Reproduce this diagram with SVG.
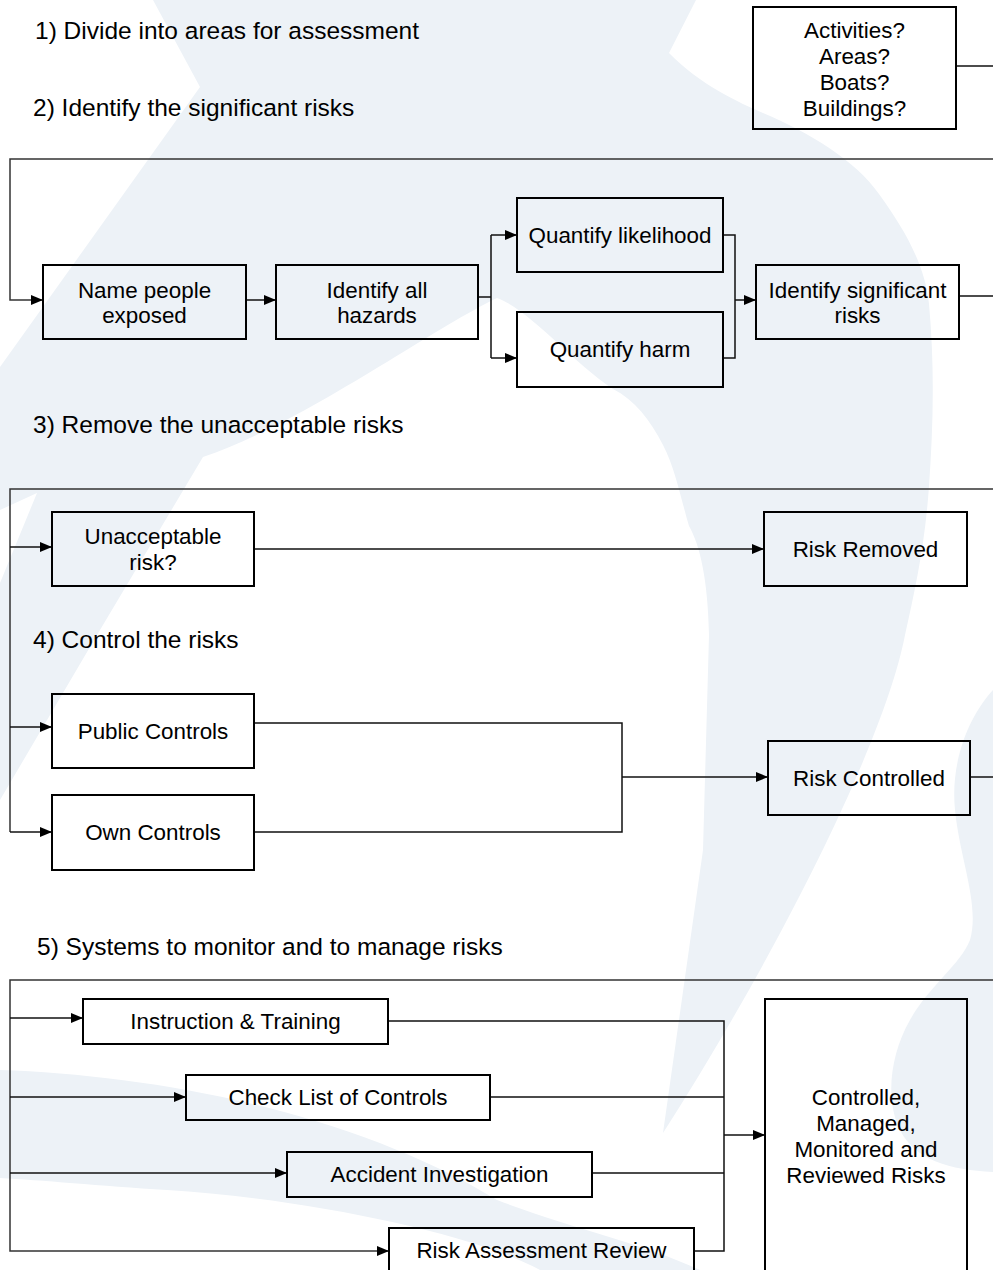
<svg xmlns="http://www.w3.org/2000/svg" width="993" height="1270" viewBox="0 0 993 1270">
<style>
.bg{fill:#edf2f7;stroke:none}
.box{fill:none;stroke:#000;stroke-width:2}
.t{font-family:"Liberation Sans",Arial,sans-serif;font-size:22.4px;fill:#000;text-anchor:middle}
.h{font-family:"Liberation Sans",Arial,sans-serif;font-size:24.5px;fill:#000}
.c{fill:none;stroke:#111;stroke-width:1.5}
.f{fill:none;stroke:#333;stroke-width:1.5}
</style>
<defs>
<marker id="ah" markerUnits="userSpaceOnUse" markerWidth="12" markerHeight="10" viewBox="0 0 12 10" refX="12" refY="5" orient="auto">
<path d="M0,0 L12,5 L0,10 Z" fill="#000"/>
</marker>
</defs>
<rect width="993" height="1270" fill="#fff"/>
<g id="watermark">
<path class="bg" d="M153,0 L696,0 L669,53 C700,85 740,103 763,113 C810,133 855,160 879,194 C905,230 925,265 929,304 C935,370 933,430 929,486 C925,545 915,590 905,635 C885,740 780,950 663,1133 L703,850 L709,635 C708,580 700,545 689,526 C680,495 675,468 663,445 C650,420 635,400 613,389 C570,360 530,310 497,298 C430,330 300,425 203,457 L100,630 L0,800 L0,583 L37,493 L0,510 L0,367 L200,87 Z"/>
<path class="bg" d="M0,1070 C150,1075 350,1110 497,1200 C570,1228 640,1242 700,1270 L540,1270 C470,1232 300,1198 167,1190 C100,1186 40,1180 0,1178 Z"/>
<path class="bg" d="M993,690 C970,715 950,760 955,810 C960,860 980,905 970,940 C960,965 930,985 910,1020 C890,1055 885,1100 900,1130 C915,1160 950,1170 993,1172 Z"/>
</g>
<g id="titles">
<text class="h" x="35" y="39">1) Divide into areas for assessment</text>
<text class="h" x="33" y="116">2) Identify the significant risks</text>
<text class="h" x="33" y="433">3) Remove the unacceptable risks</text>
<text class="h" x="33" y="648">4) Control the risks</text>
<text class="h" x="37" y="955">5) Systems to monitor and to manage risks</text>
</g>
<g id="connectors">
<path class="c" d="M956,66 H993"/>
<path class="f" d="M993,159 H10 V300 H43" marker-end="url(#ah)"/>
<path class="c" d="M246,300 H276" marker-end="url(#ah)"/>
<path class="c" d="M478,297 H491 M491,235 V358"/>
<path class="c" d="M491,235 H517" marker-end="url(#ah)"/>
<path class="c" d="M491,358 H517" marker-end="url(#ah)"/>
<path class="c" d="M723,235 H735 V358 H723"/>
<path class="c" d="M735,300 H756" marker-end="url(#ah)"/>
<path class="c" d="M959,296 H993"/>
<path class="f" d="M993,489 H10 V832"/>
<path class="c" d="M10,547 H52" marker-end="url(#ah)"/>
<path class="c" d="M10,727 H52" marker-end="url(#ah)"/>
<path class="c" d="M10,832 H52" marker-end="url(#ah)"/>
<path class="c" d="M254,549 H764" marker-end="url(#ah)"/>
<path class="c" d="M254,723 H622 V832 H254"/>
<path class="c" d="M622,777 H768" marker-end="url(#ah)"/>
<path class="c" d="M970,777 H993"/>
<path class="f" d="M993,980 H10 V1251 H389" marker-end="url(#ah)"/>
<path class="c" d="M10,1018 H83" marker-end="url(#ah)"/>
<path class="c" d="M10,1097 H186" marker-end="url(#ah)"/>
<path class="c" d="M10,1173 H287" marker-end="url(#ah)"/>
<path class="c" d="M388,1021 H724 V1251 H694 M490,1097 H724 M592,1173 H724"/>
<path class="c" d="M724,1135 H765" marker-end="url(#ah)"/>
</g>
<g id="n-activities">
<rect class="box" x="753" y="7" width="203" height="122"/>
<text class="t" x="854.5" y="38">Activities?</text>
<text class="t" x="854.5" y="64">Areas?</text>
<text class="t" x="854.5" y="90">Boats?</text>
<text class="t" x="854.5" y="116">Buildings?</text>
</g>
<g id="n-name-people">
<rect class="box" x="43" y="265" width="203" height="74"/>
<text class="t" x="144.5" y="298">Name people</text>
<text class="t" x="144.5" y="323">exposed</text>
</g>
<g id="n-identify-hazards">
<rect class="box" x="276" y="265" width="202" height="74"/>
<text class="t" x="377" y="298">Identify all</text>
<text class="t" x="377" y="323">hazards</text>
</g>
<g id="n-likelihood">
<rect class="box" x="517" y="198" width="206" height="74"/>
<text class="t" x="620" y="243">Quantify likelihood</text>
</g>
<g id="n-harm">
<rect class="box" x="517" y="312" width="206" height="75"/>
<text class="t" x="620" y="357">Quantify harm</text>
</g>
<g id="n-significant">
<rect class="box" x="756" y="265" width="203" height="74"/>
<text class="t" x="857.5" y="298">Identify significant</text>
<text class="t" x="857.5" y="323">risks</text>
</g>
<g id="n-unacceptable">
<rect class="box" x="52" y="512" width="202" height="74"/>
<text class="t" x="153" y="544">Unacceptable</text>
<text class="t" x="153" y="570">risk?</text>
</g>
<g id="n-removed">
<rect class="box" x="764" y="512" width="203" height="74"/>
<text class="t" x="865.5" y="557">Risk Removed</text>
</g>
<g id="n-public">
<rect class="box" x="52" y="694" width="202" height="74"/>
<text class="t" x="153" y="739">Public Controls</text>
</g>
<g id="n-own">
<rect class="box" x="52" y="795" width="202" height="75"/>
<text class="t" x="153" y="840">Own Controls</text>
</g>
<g id="n-controlled">
<rect class="box" x="768" y="741" width="202" height="74"/>
<text class="t" x="869" y="786">Risk Controlled</text>
</g>
<g id="n-instruction">
<rect class="box" x="83" y="999" width="305" height="45"/>
<text class="t" x="235.5" y="1029">Instruction &amp; Training</text>
</g>
<g id="n-checklist">
<rect class="box" x="186" y="1075" width="304" height="45"/>
<text class="t" x="338" y="1105">Check List of Controls</text>
</g>
<g id="n-accident">
<rect class="box" x="287" y="1152" width="305" height="45"/>
<text class="t" x="439.5" y="1182">Accident Investigation</text>
</g>
<g id="n-review">
<rect class="box" x="389" y="1228" width="305" height="46"/>
<text class="t" x="541.5" y="1258">Risk Assessment Review</text>
</g>
<g id="n-final">
<rect class="box" x="765" y="999" width="202" height="280"/>
<text class="t" x="866" y="1105">Controlled,</text>
<text class="t" x="866" y="1131">Managed,</text>
<text class="t" x="866" y="1157">Monitored and</text>
<text class="t" x="866" y="1183">Reviewed Risks</text>
</g>
</svg>
